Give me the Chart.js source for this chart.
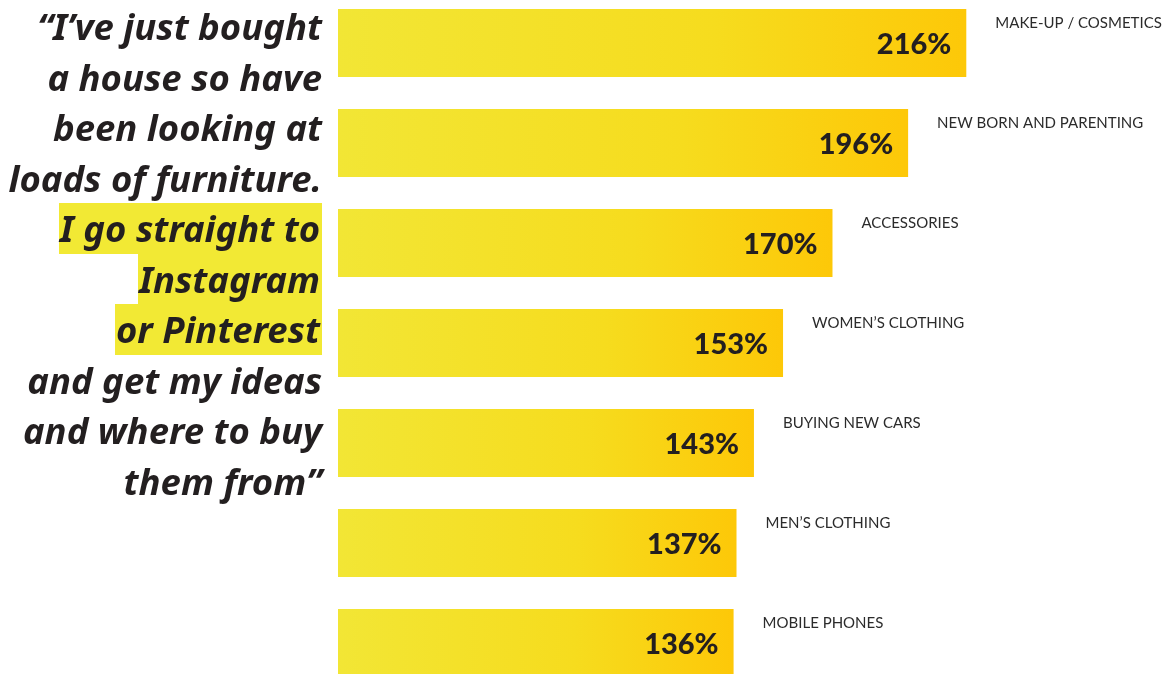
<!DOCTYPE html>
<html>
<head>
<meta charset="utf-8">
<script src="https://cdn.jsdelivr.net/npm/chart.js@4.4.1/dist/chart.umd.min.js"></script>
<style>
  html, body { margin: 0; padding: 0; background: #fff; overflow: hidden; }
  body { width: 1167px; height: 674px; position: relative; }
  #wrap { position: absolute; left: 0; top: -7px; width: 1167px; height: 700px; }
  #quote {
    position: absolute; left: 0; top: 1px; width: 322px;
    text-align: right; font-family: "Noto Sans", sans-serif;
    font-style: italic; font-weight: 700; font-size: 36.5px;
    line-height: 50.5px; color: #231f20; letter-spacing: 0px;
  }
  #quote div { white-space: nowrap; height: 50.5px; }
  #quote .hl { background: #f2e934; display: inline-block; padding-right: 2px; padding-left: 1px; }
</style>
</head>
<body>
<div id="wrap"><canvas id="chartQuery1"></canvas></div>
<div id="quote">
  <div>“I’ve just bought</div>
  <div>a house so have</div>
  <div>been looking at</div>
  <div>loads of furniture.</div>
  <div><span class="hl">I go straight to</span></div>
  <div><span class="hl">Instagram</span></div>
  <div><span class="hl">or Pinterest</span></div>
  <div>and get my ideas</div>
  <div>and where to buy</div>
  <div>them from”</div>
</div>
<script>
// chart data
const categories = ["MAKE-UP / COSMETICS", "NEW BORN AND PARENTING", "ACCESSORIES", "WOMEN’S CLOTHING", "BUYING NEW CARS", "MEN’S CLOTHING", "MOBILE PHONES"];
const growthValues = [216, 196, 170, 153, 143, 137, 136];

// gradient per bar, light yellow on the left to gold on the right
function barGradient(context) {
  const chart = context.chart;
  const xScale = chart.scales.x;
  if (!chart.chartArea || !xScale) return "#f6d81c";
  const x0 = xScale.getPixelForValue(0);
  const x1 = xScale.getPixelForValue(context.raw);
  const g = chart.ctx.createLinearGradient(x0, 0, x1, 0);
  g.addColorStop(0, "#f2e635");
  g.addColorStop(0.6, "#f6dc1e");
  g.addColorStop(1, "#fdc808");
  return g;
}

// labels: value inside the bar and category name to the right
const barLabels = {
  id: "barLabels",
  afterDatasetsDraw(chart) {
    const ctx = chart.ctx;
    const meta = chart.getDatasetMeta(0);
    ctx.save();
    meta.data.forEach((bar, i) => {
      const top = bar.y - bar.height / 2;
      ctx.fillStyle = "#231f20";
      ctx.font = "900 29px Lato";
      ctx.textAlign = "right";
      ctx.textBaseline = "middle";
      ctx.fillText(growthValues[i] + "%", bar.x - 15, bar.y + 2);
      ctx.font = "15px Lato";
      ctx.textAlign = "left";
      ctx.fillStyle = "#2b2b2b";
      ctx.fillText(categories[i], bar.x + 29, top + 14);
    });
    ctx.restore();
  }
};

const mainFunc = () => {
  const ctxQuery1 = document.getElementById("chartQuery1").getContext("2d");
  new Chart(ctxQuery1, {
    type: "bar",
    data: {
      labels: categories,
      datasets: [{
        label: "Growth",
        data: growthValues,
        backgroundColor: barGradient,
        borderWidth: 0,
        barPercentage: 0.68,
        categoryPercentage: 1.0
      }]
    },
    options: {
      indexAxis: "y",
      responsive: true,
      maintainAspectRatio: false,
      animation: false,
      layout: { padding: { left: 338, right: 0, top: 0, bottom: 0 } },
      scales: {
        x: { display: false, min: 0, max: 285 },
        y: { display: false }
      },
      plugins: {
        legend: { display: false },
        tooltip: { enabled: false }
      }
    },
    plugins: [barLabels]
  });
};

window.addEventListener("load", mainFunc);
</script>
</body>
</html>
